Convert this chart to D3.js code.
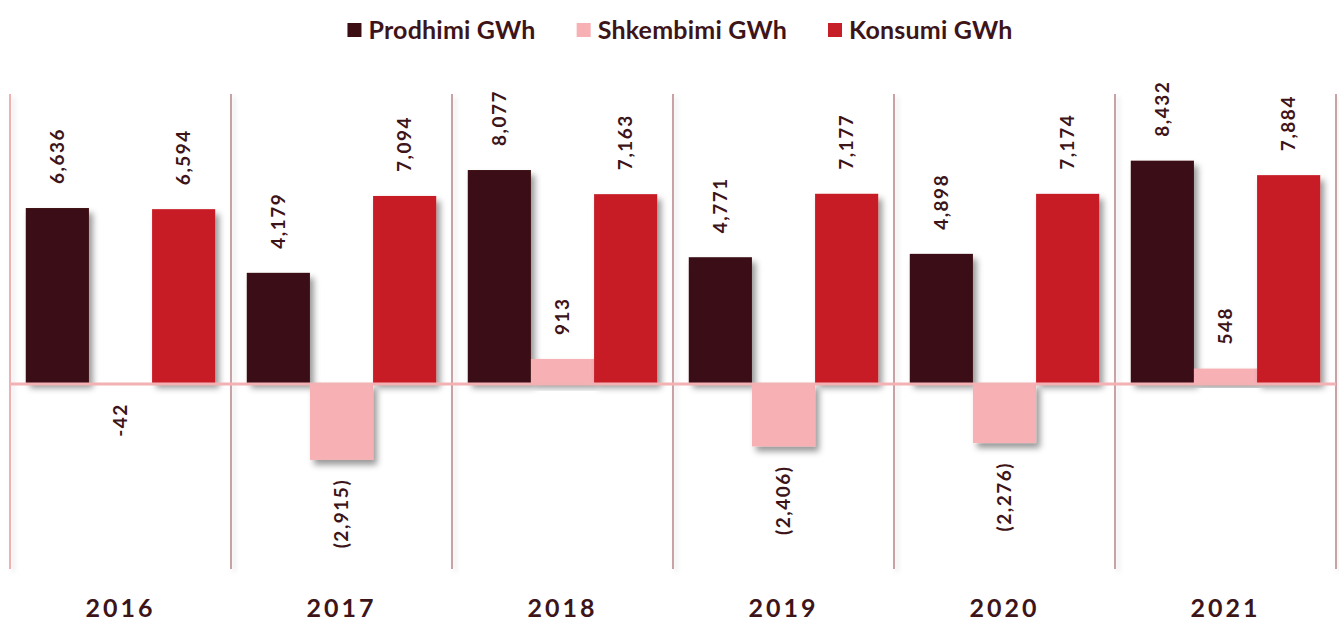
<!DOCTYPE html>
<html>
<head>
<meta charset="utf-8">
<script src="https://cdn.jsdelivr.net/npm/d3@7"></script>
<style>
  body { margin: 0; background: #fff; }
  svg { display: block; }
</style>
</head>
<body>
<div id="chart"></div>
<script>
const years = ["2016", "2017", "2018", "2019", "2020", "2021"];
const seriesNames = ["Prodhimi GWh", "Shkembimi GWh", "Konsumi GWh"];
const prodhimi = [6636, 4179, 8077, 4771, 4898, 8432];
const shkembimi = [-42, -2915, 913, -2406, -2276, 548];
const konsumi = [6594, 7094, 7163, 7177, 7174, 7884];
// labels as printed on the chart (negatives mostly shown in brackets)
const shkembimiLabels = ["-42", "(2,915)", "913", "(2,406)", "(2,276)", "548"];

const colors = ["#3a0e12", "#f7b0b3", "#c71f28"];
const textColor = "#3d1418";

const width = 1339, height = 624;
const fmt = d3.format(",");

const rows = years.map((yr, i) => ({
  year: yr,
  values: [
    { key: seriesNames[0], v: prodhimi[i], label: fmt(prodhimi[i]) },
    { key: seriesNames[1], v: shkembimi[i], label: shkembimiLabels[i] },
    { key: seriesNames[2], v: konsumi[i], label: fmt(konsumi[i]) }
  ]
}));

const svg = d3.select("#chart").append("svg")
  .attr("width", width)
  .attr("height", height);

const defs = svg.append("defs");
defs.append("filter").attr("id", "shadow")
  .attr("x", "-20%").attr("y", "-20%").attr("width", "150%").attr("height", "150%")
  .append("feDropShadow")
  .attr("dx", 4).attr("dy", 5).attr("stdDeviation", 3)
  .attr("flood-color", "#000").attr("flood-opacity", 0.4);
defs.append("filter").attr("id", "lineShadow")
  .attr("filterUnits", "userSpaceOnUse")
  .attr("x", 0).attr("y", 80).attr("width", width).attr("height", 510)
  .append("feDropShadow")
  .attr("dx", 3).attr("dy", 3).attr("stdDeviation", 2.5)
  .attr("flood-color", "#000").attr("flood-opacity", 0.12);

const x0 = d3.scaleBand().domain(years).range([10, 1336]).paddingInner(0).paddingOuter(0);
const x1 = d3.scaleBand().domain(seriesNames).range([0, x0.bandwidth()]).paddingInner(0).paddingOuter(0.25);
const y = d3.scaleLinear().domain([-7000, 9000]).range([567.6, 145.7]);

const plotTop = 94, plotBottom = 569;

// vertical dividers between years
const dividers = years.map(d => x0(d)).concat([x0.range()[1]]);
svg.append("g")
  .attr("filter", "url(#lineShadow)")
  .selectAll("line")
  .data(dividers)
  .join("line")
  .attr("x1", d => d).attr("x2", d => d)
  .attr("y1", plotTop).attr("y2", plotBottom)
  .attr("stroke", (d, i) => i === 0 ? "#eeb2b5" : "#c9a2a5")
  .attr("stroke-width", 2);

// bars
const groups = svg.append("g").selectAll("g")
  .data(rows)
  .join("g")
  .attr("transform", d => `translate(${x0(d.year)},0)`);

groups.selectAll("rect")
  .data(d => d.values)
  .join("rect")
  .attr("x", d => x1(d.key))
  .attr("width", x1.bandwidth())
  .attr("y", d => y(Math.max(0, d.v)))
  .attr("height", d => Math.max(1, Math.abs(y(d.v) - y(0))))
  .attr("fill", (d, i) => colors[i])
  .attr("filter", "url(#shadow)");

// zero line
svg.append("line")
  .attr("x1", x0.range()[0]).attr("x2", x0.range()[1])
  .attr("y1", y(0) + 1).attr("y2", y(0) + 1)
  .attr("stroke", "#f3b1b4")
  .attr("stroke-width", 3);

// value labels, rotated
groups.selectAll("text")
  .data(d => d.values)
  .join("text")
  .attr("transform", d => {
    const cx = x1(d.key) + x1.bandwidth() / 2;
    const ty = d.v >= 0 ? y(d.v) - 24 : y(d.v) + 19;
    return `translate(${cx},${ty}) rotate(-90)`;
  })
  .attr("dy", "0.36em")
  .attr("text-anchor", d => d.v >= 0 ? "start" : "end")
  .attr("font-family", "Lato, 'Open Sans', sans-serif")
  .attr("font-weight", 700)
  .attr("font-size", 19)
  .attr("letter-spacing", 1.5)
  .attr("fill", textColor)
  .text(d => d.label);

// category axis labels
svg.append("g").selectAll("text")
  .data(years)
  .join("text")
  .attr("x", d => x0(d) + x0.bandwidth() / 2)
  .attr("y", 617)
  .attr("text-anchor", "middle")
  .attr("font-family", "Lato, 'Open Sans', sans-serif")
  .attr("font-weight", 700)
  .attr("font-size", 25)
  .attr("letter-spacing", 3)
  .attr("fill", textColor)
  .text(d => d);

// legend
const legend = svg.append("g");
const items = legend.selectAll("g")
  .data(seriesNames)
  .join("g");
items.append("rect")
  .attr("width", 14).attr("height", 14)
  .attr("y", 23)
  .attr("fill", (d, i) => colors[i]);
items.append("text")
  .attr("x", 21)
  .attr("y", 39)
  .attr("font-family", "Lato, 'Open Sans', sans-serif")
  .attr("font-weight", 700)
  .attr("font-size", 25)
  .attr("letter-spacing", 0.2)
  .attr("fill", textColor)
  .text(d => d);

let offset = 0;
const starts = [];
items.each(function () {
  starts.push(offset);
  offset += this.getBBox().width + 41;
});
const total = offset - 41;
const startX = 680 - total / 2;
items.attr("transform", (d, i) => `translate(${startX + starts[i]},0)`);
</script>
</body>
</html>
